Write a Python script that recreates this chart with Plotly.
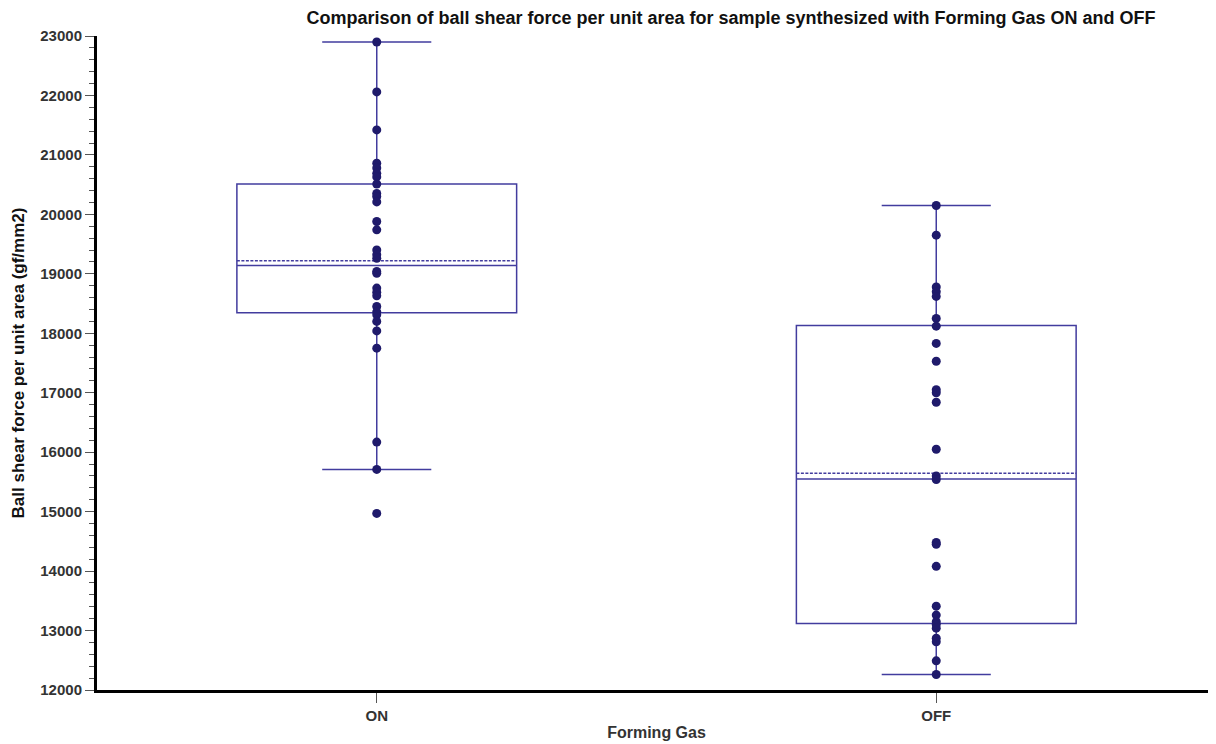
import plotly.graph_objects as go

categories = ["ON", "OFF"]

on_values = [22900, 22060, 21420, 20860, 20780, 20690, 20630, 20510, 20350, 20300,
             20210, 19880, 19740, 19400, 19320, 19260, 19040, 19010, 18760, 18690,
             18630, 18450, 18360, 18310, 18200, 18040, 17750, 16170, 15710, 14970]
off_values = [20150, 19650, 18780, 18700, 18620, 18250, 18120, 17830, 17530, 17050,
              17000, 16840, 16050, 15600, 15540, 14480, 14450, 14080, 13410, 13260,
              13150, 13100, 13040, 12870, 12810, 12490, 12260]

q1_vals = [18345, 13120]
median_vals = [19140, 15550]
q3_vals = [20510, 18130]
mean_vals = [19220, 15645]
lower_vals = [15710, 12260]
upper_vals = [22900, 20150]

box_color = "#423c9e"
point_color = "#1f1a6b"

# page body has an 8px margin; figure size/margins compensate for it
W, H = 1208, 736

fig = go.Figure()
fig.add_trace(go.Box(
    x=categories, q1=q1_vals, median=median_vals, q3=q3_vals, mean=mean_vals,
    lowerfence=lower_vals, upperfence=upper_vals,
    boxmean=True, boxpoints=False, width=0.5, whiskerwidth=0.39,
    line=dict(color=box_color, width=1.5), fillcolor="rgba(0,0,0,0)",
    showlegend=False,
))
fig.add_trace(go.Scatter(
    x=["ON"] * len(on_values) + ["OFF"] * len(off_values),
    y=on_values + off_values,
    mode="markers", marker=dict(color=point_color, size=9),
    showlegend=False,
))

fig.update_layout(
    width=W, height=H,
    paper_bgcolor="white", plot_bgcolor="white",
    margin=dict(l=89, r=0, t=28, b=54),
    font=dict(family="Liberation Sans, Arial, sans-serif", color="#333333"),
    title=dict(
        text="<b>Comparison of ball shear force per unit area for sample synthesized with Forming Gas ON and OFF</b>",
        x=723 / W, xref="container", xanchor="center",
        y=1 - 10 / H, yref="container", yanchor="middle",
        font=dict(size=18, color="#111111"),
    ),
    xaxis=dict(
        type="category", categoryorder="array", categoryarray=categories,
        range=[-0.5, 1.5],
        showline=True, linecolor="black", linewidth=3,
        ticks="outside", ticklen=10, tickcolor="#555555", tickwidth=1,
        tickfont=dict(size=15, color="#333333"),
        tickprefix="<b>", ticksuffix="</b>",
        showgrid=False, zeroline=False,
        title=dict(text="<b>Forming Gas</b>", font=dict(size=16, color="#333333"), standoff=4),
    ),
    yaxis=dict(
        range=[12000, 23000], dtick=1000, tick0=12000,
        showline=True, linecolor="black", linewidth=3,
        ticks="outside", ticklen=9, tickcolor="#555555", tickwidth=1,
        tickfont=dict(size=15, color="#333333"),
        tickprefix="<b>", ticksuffix="</b>",
        tickformat="d",
        minor=dict(dtick=200, ticks="outside", ticklen=5, tickcolor="#555555", showgrid=False),
        showgrid=False, zeroline=False,
        title=dict(text="<b>Ball shear force per unit area (gf/mm2)</b>", font=dict(size=17, color="#111111"), standoff=12),
    ),
)

fig.write_html("out.html")
